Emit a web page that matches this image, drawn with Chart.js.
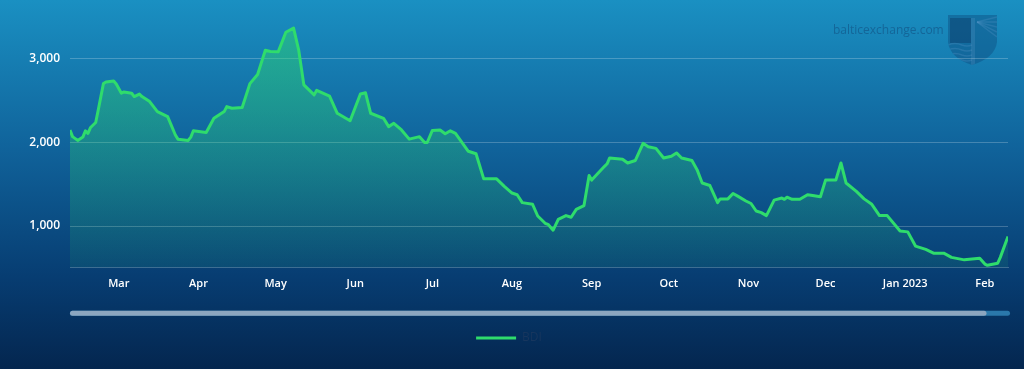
<!DOCTYPE html>
<html>
<head>
<meta charset="utf-8">
<title>BDI</title>
<script src="https://cdn.jsdelivr.net/npm/chart.js@4.4.0/dist/chart.umd.min.js"></script>
<style>
    html, body { margin: 0; padding: 0; background: #062b58; }
    #wrap { width: 1024px; height: 369px; position: relative; }
</style>
</head>
<body>
<div id="wrap"><canvas id="bdiChart"></canvas></div>
<script>
// days since 2022-02-10
const days = [0,1,3,5,6,7,8,10,11,13,
    14,17,18,20,21,24,25,27,28,31,
    34,36,38,41,42,46,47,48,53,56,
    60,61,63,67,70,73,76,78,81,84,
    87,89,91,95,96,101,104,109,113,115,
    117,122,124,126,129,132,136,138,139,141,
    144,146,148,150,155,158,161,166,169,172,
    174,176,180,182,185,186,188,190,193,195,
    197,200,202,203,208,209,210,215,217,220,
    223,225,228,231,234,236,238,242,244,246,
    249,252,253,256,258,260,263,265,267,269,
    271,274,277,278,279,281,284,287,289,292,
    294,298,300,302,306,309,312,315,318,323,
    326,329,333,336,340,343,348,351,354,356,
    357,361,362,365];

const bdi = [2150,2070,2025,2065,2140,2110,2180,2240,2390,2705,
    2725,2735,2700,2590,2605,2590,2550,2580,2550,2490,
    2370,2340,2310,2090,2040,2025,2065,2140,2120,2290,
    2370,2430,2410,2420,2705,2815,3105,3090,3085,3320,
    3370,3105,2690,2570,2625,2555,2350,2260,2580,2595,
    2350,2290,2190,2230,2150,2040,2070,2000,2000,2145,
    2150,2105,2140,2110,1895,1865,1565,1565,1475,1395,
    1375,1280,1260,1120,1030,1020,950,1080,1125,1105,
    1200,1245,1605,1550,1715,1745,1815,1800,1755,1785,
    1990,1950,1930,1815,1835,1875,1815,1785,1675,1515,
    1485,1280,1325,1325,1390,1355,1300,1270,1180,1160,
    1125,1310,1335,1320,1345,1320,1320,1375,1365,1350,
    1550,1550,1755,1515,1415,1325,1260,1125,1125,940,
    930,760,720,675,675,625,595,605,615,545,
    530,555,625,875];

// month starts, same day count
const monthDays = [19,50,80,111,141,172,203,233,264,294,325,356];
const monthLabels = ['Mar','Apr','May','Jun','Jul','Aug','Sep','Oct','Nov','Dec','Jan 2023','Feb'];
const yTicks = [1000, 2000, 3000];

const lineColor = '#2fdc6c';
const gridColor = 'rgba(255, 255, 255, 0.22)';

Chart.defaults.font.family = "'Open Sans', sans-serif";

function areaFill(context) {
    const area = context.chart.chartArea;
    if (!area) return 'rgba(47, 220, 108, 0.3)';
    const g = context.chart.ctx.createLinearGradient(0, area.top, 0, area.bottom);
    g.addColorStop(0, 'rgba(47, 220, 108, 0.5)');
    g.addColorStop(1, 'rgba(47, 220, 108, 0.08)');
    return g;
}

function drawShield(ctx) {
    ctx.save();
    ctx.beginPath();
    ctx.moveTo(948, 15);
    ctx.lineTo(997, 15);
    ctx.lineTo(997, 42);
    ctx.quadraticCurveTo(995, 58, 972, 65);
    ctx.quadraticCurveTo(950, 58, 948, 42);
    ctx.closePath();
    ctx.fillStyle = 'rgba(14, 78, 128, 0.45)';
    ctx.fill();
    ctx.clip();
    // darker left panel with waves
    ctx.fillStyle = 'rgba(10, 60, 105, 0.45)';
    ctx.fillRect(950, 18, 21, 25);
    ctx.strokeStyle = 'rgba(90, 150, 200, 0.28)';
    ctx.lineWidth = 1.5;
    for (let i = 0; i < 4; i++) {
        const y = 45 + i * 5;
        ctx.beginPath();
        ctx.moveTo(948, y);
        ctx.quadraticCurveTo(955, y - 3, 962, y);
        ctx.quadraticCurveTo(967, y + 2, 972, y);
        ctx.stroke();
    }
    // lighthouse
    ctx.fillStyle = 'rgba(90, 150, 200, 0.25)';
    ctx.fillRect(971, 18, 4, 47);
    // light rays
    for (let i = 0; i < 5; i++) {
        ctx.beginPath();
        ctx.moveTo(977, 22);
        ctx.lineTo(997, 17 + i * 5);
        ctx.stroke();
    }
    ctx.restore();
}

const decorations = {
    id: 'decorations',
    beforeDraw(chart) {
        const { ctx, width, height } = chart;
        const g = ctx.createLinearGradient(0, 0, 0, height);
        g.addColorStop(0, '#1a90c2');
        g.addColorStop(0.4, '#10639b');
        g.addColorStop(0.75, '#073d72');
        g.addColorStop(1, '#04264f');
        ctx.save();
        ctx.fillStyle = g;
        ctx.fillRect(0, 0, width, height);

        // watermark
        ctx.font = "12px 'Open Sans', sans-serif";
        ctx.fillStyle = 'rgba(15, 70, 120, 0.5)';
        ctx.textBaseline = 'middle';
        ctx.fillText('balticexchange.com', 833, 31);
        ctx.restore();
        drawShield(ctx);
    },
    afterDraw(chart) {
        const { ctx, chartArea } = chart;
        const left = chartArea.left;
        const right = chartArea.right + 2;
        const y = chartArea.bottom + 43;
        const h = 5;
        ctx.save();
        ctx.fillStyle = '#2a78ab';
        ctx.beginPath();
        ctx.roundRect(left, y, right - left, h, h / 2);
        ctx.fill();
        ctx.fillStyle = '#8ca6c0';
        ctx.beginPath();
        ctx.roundRect(left, y, (right - left) * 0.975, h, h / 2);
        ctx.fill();
        ctx.restore();
    }
};

const ctx = document.getElementById('bdiChart').getContext('2d');
const bdiChart = new Chart(ctx, {
    type: 'line',
    data: {
        datasets: [{
            label: 'BDI',
            data: days.map((d, i) => ({ x: d, y: bdi[i] })),
            borderColor: lineColor,
            borderWidth: 3,
            backgroundColor: areaFill,
            fill: 'start',
            pointRadius: 0,
            tension: 0,
            borderJoinStyle: 'round'
        }]
    },
    options: {
        responsive: true,
        maintainAspectRatio: false,
        animation: false,
        layout: { padding: { top: 15, right: 16, bottom: 15, left: 10 } },
        scales: {
            x: {
                type: 'linear',
                min: 0,
                max: 365,
                afterBuildTicks: scale => { scale.ticks = monthDays.map(v => ({ value: v })); },
                afterFit: scale => { scale.height += 23; },
                grid: { display: false, drawTicks: false },
                border: { display: true, color: gridColor, width: 1 },
                ticks: {
                    autoSkip: false,
                    maxRotation: 0,
                    padding: 9,
                    color: '#ffffff',
                    font: { size: 11, weight: '600' },
                    callback: (value, index) => monthLabels[index]
                }
            },
            y: {
                min: 500,
                max: 3500,
                afterBuildTicks: scale => { scale.ticks = yTicks.map(v => ({ value: v })); },
                afterFit: scale => { scale.width = 60; },
                grid: { color: gridColor, drawTicks: false },
                border: { display: false },
                ticks: {
                    padding: 10,
                    color: '#ffffff',
                    font: { size: 12, weight: '600' },
                    callback: value => value.toLocaleString('en-US')
                }
            }
        },
        plugins: {
            legend: {
                position: 'bottom',
                labels: {
                    boxWidth: 40,
                    boxHeight: 3,
                    padding: 10,
                    color: '#17365e',
                    font: { size: 12 },
                    generateLabels: () => [{
                        text: 'BDI',
                        fillStyle: lineColor,
                        strokeStyle: lineColor,
                        fontColor: '#17365e',
                        lineWidth: 0,
                        hidden: false,
                        datasetIndex: 0
                    }]
                }
            },
            tooltip: { enabled: false }
        }
    },
    plugins: [decorations]
});
</script>
</body>
</html>
